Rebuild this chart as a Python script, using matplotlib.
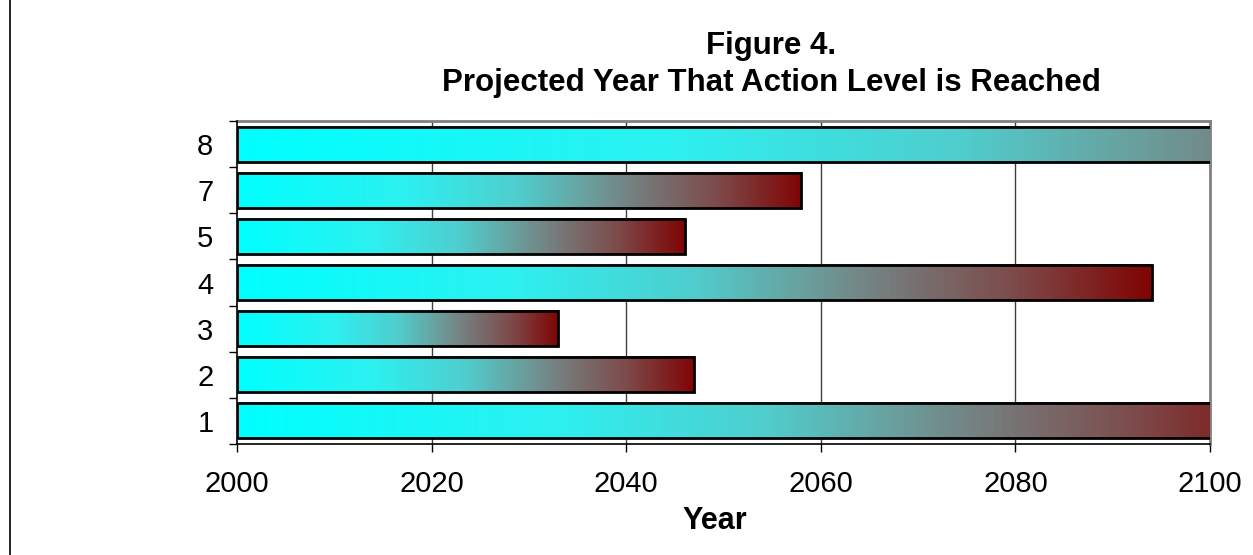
import numpy as np
import matplotlib
matplotlib.use('Agg')
import matplotlib.pyplot as plt
from matplotlib.colors import LinearSegmentedColormap
from matplotlib.lines import Line2D

plt.rcParams['font.family'] = ['Liberation Sans', 'DejaVu Sans']

# data
labels = ['1', '2', '3', '4', '5', '7', '8']
years = [2109, 2047, 2033, 2094, 2046, 2058, 2149]
start_year = 2000
end_axis = 2100

# cyan -> grey -> dark red fill, stretched over each bar
cmap = LinearSegmentedColormap.from_list('fill', [
    (0.0, (0 / 255, 255 / 255, 255 / 255)),
    (0.3, (45 / 255, 240 / 255, 240 / 255)),
    (0.5, (80 / 255, 205 / 255, 205 / 255)),
    (0.62, (105 / 255, 160 / 255, 158 / 255)),
    (0.7, (118 / 255, 128 / 255, 128 / 255)),
    (0.85, (125 / 255, 75 / 255, 75 / 255)),
    (1.0, (128 / 255, 5 / 255, 5 / 255)),
])

fig = plt.figure(figsize=(12.53, 5.55), dpi=100)
ax = fig.add_axes([237 / 1253, 1 - 444 / 555, (1210 - 237) / 1253, (444 - 121) / 555])

y_pos = np.arange(len(labels))
bars = ax.barh(y_pos, np.array(years) - start_year, left=start_year, height=0.76,
               facecolor='none', edgecolor='black', linewidth=2, zorder=4)

for bar, end in zip(bars, years):
    # part of the bar that is inside the axis range
    shown = min(end, end_axis)
    frac = (shown - start_year) / (end - start_year)
    grad = np.linspace(0, frac, 256).reshape(1, -1)
    y0 = bar.get_y()
    ax.imshow(grad, cmap=cmap, vmin=0, vmax=1, aspect='auto', interpolation='bilinear',
              extent=(start_year, shown, y0, y0 + bar.get_height()), zorder=3)

ax.set_xlim(start_year, end_axis)
ax.set_ylim(-0.5, len(labels) - 0.5)
ax.set_xticks(np.arange(2000, 2101, 20))
ax.set_yticks(y_pos)
ax.set_yticklabels(labels)
ax.set_yticks(np.arange(-0.5, len(labels), 1), minor=True)

ax.tick_params(axis='x', labelsize=21, length=6, width=1, pad=13, direction='out')
ax.tick_params(axis='y', which='major', labelsize=21, length=0, pad=17)
ax.tick_params(axis='y', which='minor', length=6, width=1, direction='out')

# inner grid lines only
ax.vlines([2020, 2040, 2060, 2080], -0.5, len(labels) - 0.5, color='#404040',
          linewidth=1, zorder=1)
for s in ['top', 'right']:
    ax.spines[s].set_color('#808080')
    ax.spines[s].set_linewidth(2)
    ax.spines[s].set_zorder(2)
for s in ['left', 'bottom']:
    ax.spines[s].set_color('black')
    ax.spines[s].set_linewidth(1.2)

fig.text(771 / 1253, 1 - 46 / 555, 'Figure 4.', ha='center', va='center',
         fontsize=22.5, fontweight='bold')
fig.text(771 / 1253, 1 - 83 / 555, 'Projected Year That Action Level is Reached',
         ha='center', va='center', fontsize=22.5, fontweight='bold')
fig.text(715 / 1253, 1 - 521 / 555, 'Year', ha='center', va='center',
         fontsize=22, fontweight='bold')

fig.add_artist(Line2D([10 / 1253, 10 / 1253], [0, 1], color='black', linewidth=1.2))

fig.savefig('out.png', dpi=100)
